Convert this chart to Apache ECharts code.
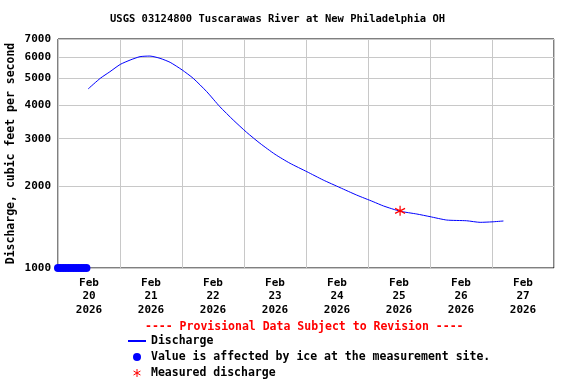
<!DOCTYPE html>
<html>
<head>
<meta charset="utf-8">
<script src="https://cdn.jsdelivr.net/npm/echarts@6/dist/echarts.min.js"></script>
<style>html,body{margin:0;padding:0;background:#fff}#c{width:576px;height:384px}</style>
</head>
<body>
<div id="c"></div>
<script>
const titleText = 'USGS 03124800 Tuscarawas River at New Philadelphia OH';
const provisionalText = '---- Provisional Data Subject to Revision ----';
const yAxisName = 'Discharge, cubic feet per second';
const xStart = '2026-02-20T00:00Z';
const xEnd = '2026-02-28T00:00Z';
const dayLabels = ['Feb\n20\n2026','Feb\n21\n2026','Feb\n22\n2026','Feb\n23\n2026','Feb\n24\n2026','Feb\n25\n2026','Feb\n26\n2026','Feb\n27\n2026'];
const yTicks = [1000, 2000, 3000, 4000, 5000, 6000, 7000];

const dischargeTimes = [
  '2026-02-20T11:40Z','2026-02-20T16:20Z','2026-02-20T20:05Z','2026-02-21T00:05Z','2026-02-21T03:55Z',
  '2026-02-21T07:45Z','2026-02-21T11:35Z','2026-02-21T15:30Z','2026-02-21T19:25Z','2026-02-22T00:05Z',
  '2026-02-22T04:20Z','2026-02-22T09:35Z','2026-02-22T14:40Z','2026-02-22T19:50Z','2026-02-23T01:00Z',
  '2026-02-23T06:10Z','2026-02-23T12:00Z','2026-02-23T17:50Z','2026-02-24T00:20Z','2026-02-24T06:40Z',
  '2026-02-24T13:10Z','2026-02-24T19:35Z','2026-02-25T02:00Z','2026-02-25T06:00Z','2026-02-25T12:25Z',
  '2026-02-25T18:55Z','2026-02-26T00:00Z','2026-02-26T06:30Z','2026-02-26T14:10Z','2026-02-26T19:25Z',
  '2026-02-27T00:00Z','2026-02-27T04:25Z'
];
const dischargeValues = [
  4580, 5010, 5300, 5640, 5853,
  6025, 6055, 5940, 5740, 5379,
  5012, 4474, 3937, 3517, 3168,
  2886, 2628, 2434, 2267, 2112,
  1980, 1859, 1757, 1694, 1620,
  1582, 1547, 1503, 1494, 1474,
  1480, 1491
];
const iceTimes = [
  '2026-02-20T00:00Z','2026-02-20T01:00Z','2026-02-20T02:00Z','2026-02-20T03:00Z','2026-02-20T04:00Z','2026-02-20T05:00Z',
  '2026-02-20T06:00Z','2026-02-20T07:00Z','2026-02-20T08:00Z','2026-02-20T09:00Z','2026-02-20T10:00Z','2026-02-20T11:00Z'
];
const iceValues = [1000,1000,1000,1000,1000,1000,1000,1000,1000,1000,1000,1000];
const measuredTimes = ['2026-02-25T12:25Z'];
const measuredValues = [1625];

const asterisk = 'path://M0,-5L0,5M-4.33,-2.5L4.33,2.5M-4.33,2.5L4.33,-2.5';
const font = 'DejaVu Sans Mono';
const toPairs = (t, v) => t.map((s, i) => [Date.parse(s), v[i]]);

const chart = echarts.init(document.getElementById('c'), null, {renderer: 'canvas'});
chart.setOption({
  animation: false,
  backgroundColor: '#fff',
  title: [
    {text: titleText, left: 110, top: 14, padding: 0, textStyle: {fontFamily: font, fontWeight: 'bold', fontSize: 10.5, color: '#000'}},
    {text: provisionalText, left: 145, top: 321, padding: 0, textStyle: {fontFamily: font, fontWeight: 'bold', fontSize: 11.5, color: '#ff0000'}}
  ],
  grid: {left: 58, right: 22, top: 39, bottom: 116, show: true, borderColor: '#000', borderWidth: 1, containLabel: false, outerBoundsMode: 'none'},
  legend: {
    orient: 'vertical', left: 127, top: 335, height: 60, padding: 0, itemWidth: 18, itemHeight: 8, itemGap: 4,
    textStyle: {fontFamily: font, fontWeight: 'bold', fontSize: 11.5, color: '#000', lineHeight: 12},
    data: [
      {name: 'Discharge', itemStyle: {opacity: 0}},
      {name: 'Value is affected by ice at the measurement site.', icon: 'circle'},
      {name: 'Measured discharge', icon: asterisk, itemStyle: {color: 'transparent', borderColor: '#ff0000', borderWidth: 1}}
    ]
  },
  xAxis: [
    {type: 'value', min: Date.parse(xStart), max: Date.parse(xEnd), interval: 86400000,
     axisLine: {show: false}, axisTick: {show: false}, axisLabel: {show: false},
     splitLine: {show: true, lineStyle: {color: '#c8c8c8', width: 1}}},
    {type: 'category', data: dayLabels, position: 'bottom', boundaryGap: true,
     axisLine: {show: false}, axisTick: {show: false}, splitLine: {show: false},
     axisLabel: {fontFamily: font, fontWeight: 'bold', fontSize: 11, color: '#000', lineHeight: 13.5, margin: 8}}
  ],
  yAxis: {
    type: 'log', logBase: 10, min: 1000, max: 7000,
    name: yAxisName, nameLocation: 'middle', nameGap: 41, nameMoveOverlap: false,
    nameTextStyle: {fontFamily: font, fontWeight: 'bold', fontSize: 11.5, color: '#000'},
    axisLine: {show: false},
    axisTick: {show: false, customValues: yTicks},
    axisLabel: {customValues: yTicks, formatter: v => String(Math.round(v)), fontFamily: font, fontWeight: 'bold', fontSize: 11, color: '#000', margin: 7},
    splitLine: {show: true, lineStyle: {color: '#c8c8c8', width: 1}}
  },
  series: [
    {name: 'Discharge', type: 'line', xAxisIndex: 0, data: toPairs(dischargeTimes, dischargeValues),
     symbol: 'none', smooth: 0.2, lineStyle: {color: '#0000ff', width: 1}, itemStyle: {color: '#0000ff'}, z: 3},
    {name: 'Value is affected by ice at the measurement site.', type: 'scatter', xAxisIndex: 0,
     data: toPairs(iceTimes, iceValues), symbol: 'circle', symbolSize: 8, clip: false,
     itemStyle: {color: '#0000ff', opacity: 1}, z: 4},
    {name: 'Measured discharge', type: 'scatter', xAxisIndex: 0,
     data: toPairs(measuredTimes, measuredValues), symbol: asterisk, symbolSize: [10, 10],
     itemStyle: {color: 'transparent', borderColor: '#ff0000', borderWidth: 1.2, opacity: 1}, z: 5}
  ]
});
</script>
</body>
</html>
